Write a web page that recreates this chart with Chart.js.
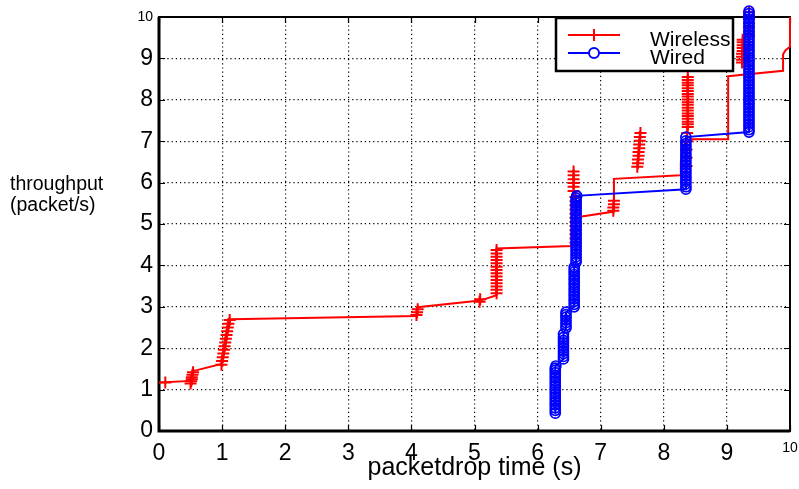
<!DOCTYPE html>
<html>
<head>
<meta charset="utf-8">
<script src="https://cdn.jsdelivr.net/npm/chart.js@4.4.0/dist/chart.umd.min.js"></script>
<style>
body{margin:0;background:#fff;}
#dibujo{width:799px;height:489px;}
</style>
</head>
<body>
<div id="dibujo"><canvas id="myChart" width="799" height="489"></canvas></div>
<script>
// axis ticks
var xTicks = [0,1,2,3,4,5,6,7,8,9,10];
var yTicks = [0,1,2,3,4,5,6,7,8,9,10];

// Wireless: the stepped red line
var wirelessLine = [[0,1.17],[0.51,1.21],[0.53,1.45],[0.6,1.47],[0.99,1.62],[1.13,2.7],[4.08,2.78],[4.1,2.99],
    [5.09,3.15],[5.35,3.28],[5.35,4.41],[6.54,4.47],[6.6,5.1],[6.7,5.18],[7.21,5.3],[7.21,6.09],[8.26,6.18],
    [8.27,6.5],[8.33,6.95],[8.42,7.05],[9.02,7.05],[9.02,8.57],[9.89,8.7],[9.89,9.1],[9.93,9.2],[10,9.28],[10,10]];

// Wireless: the '+' markers
var wirelessMarks = [[0.1,1.17],
    [0.5,1.15],[0.51,1.2],[0.52,1.25],[0.52,1.3],[0.53,1.36],[0.54,1.42],
    [0.99,1.6],[1.0,1.69],[1.01,1.78],[1.02,1.87],[1.03,1.96],[1.04,2.05],[1.05,2.14],[1.06,2.23],[1.07,2.32],
    [1.08,2.41],[1.09,2.5],[1.1,2.59],[1.12,2.68],
    [4.08,2.8],[4.09,2.87],[4.1,2.94],
    [5.08,3.12],[5.09,3.18],
    [5.35,3.33],[5.35,3.41],[5.35,3.49],[5.35,3.57],[5.35,3.65],[5.35,3.73],[5.35,3.81],[5.35,3.89],[5.35,3.97],
    [5.35,4.05],[5.35,4.13],[5.35,4.21],[5.35,4.29],[5.35,4.37],
    [6.6,4.55],[6.6,4.65],[6.6,4.75],[6.6,4.85],[6.6,4.95],[6.6,5.05],[6.6,5.15],[6.6,5.25],[6.6,5.35],[6.6,5.45],
    [6.6,5.55],[6.6,5.65],[6.57,5.8],[6.57,5.9],[6.57,5.99],[6.57,6.08],[6.57,6.18],[6.57,6.27],
    [7.2,5.32],[7.2,5.4],[7.21,5.48],[7.21,5.56],
    [7.58,6.38],[7.59,6.47],[7.59,6.56],[7.6,6.65],[7.6,6.74],[7.61,6.83],[7.61,6.92],[7.62,7.01],[7.62,7.1],[7.63,7.2],
    [8.36,6.4],[8.36,6.6],[8.36,6.8],[8.37,7.0],[8.37,7.2],
    [8.38,7.34],[8.38,7.41],[8.38,7.47],[8.38,7.54],[8.38,7.61],[8.38,7.67],[8.38,7.74],[8.38,7.81],[8.38,7.88],
    [8.38,7.94],[8.38,8.01],[8.38,8.08],[8.38,8.14],[8.38,8.21],[8.38,8.28],[8.38,8.35],[8.38,8.41],[8.38,8.48],[8.38,8.55],
    [9.24,8.9],[9.24,8.97],[9.24,9.04],[9.24,9.11],[9.25,9.18],[9.25,9.25],[9.25,9.32],[9.25,9.39],[9.25,9.45],
    [9.35,9.55],[9.35,9.65],[9.35,9.75],[9.35,9.85],[9.35,9.95],[9.35,10.05],[9.35,10.12]];

// Wired: blue line with circles
var wired = [
    [6.28,0.43],[6.28,0.5],[6.28,0.56],[6.28,0.63],[6.28,0.69],[6.28,0.76],[6.28,0.82],[6.28,0.89],[6.28,0.95],
    [6.28,1.02],[6.28,1.08],[6.28,1.15],[6.28,1.21],[6.28,1.28],[6.28,1.34],[6.28,1.41],[6.28,1.47],[6.28,1.52],[6.29,1.57],
    [6.41,1.74],[6.41,1.8],[6.41,1.87],[6.41,1.93],[6.41,2.0],[6.41,2.06],[6.41,2.13],[6.41,2.19],[6.41,2.26],[6.41,2.34],
    [6.45,2.49],[6.45,2.55],[6.45,2.62],[6.45,2.68],[6.45,2.75],[6.45,2.81],[6.45,2.87],
    [6.58,3.0],[6.58,3.06],[6.58,3.13],[6.58,3.19],[6.58,3.26],[6.58,3.32],[6.58,3.39],[6.58,3.45],[6.58,3.52],
    [6.58,3.58],[6.58,3.65],[6.58,3.71],[6.58,3.78],[6.58,3.84],[6.58,3.9],[6.58,3.96],
    [6.61,4.08],[6.61,4.14],[6.61,4.21],[6.61,4.27],[6.61,4.34],[6.61,4.4],[6.61,4.47],[6.61,4.53],[6.61,4.6],
    [6.61,4.66],[6.61,4.73],[6.61,4.79],[6.61,4.86],[6.61,4.92],[6.61,4.99],[6.61,5.05],[6.61,5.12],[6.61,5.18],
    [6.61,5.25],[6.61,5.31],[6.61,5.38],[6.61,5.44],[6.61,5.51],[6.61,5.57],[6.61,5.63],[6.62,5.68],
    [8.35,5.84],[8.35,5.9],[8.35,5.97],[8.35,6.03],[8.35,6.1],[8.35,6.16],[8.35,6.23],[8.35,6.29],[8.35,6.36],
    [8.35,6.42],[8.35,6.49],[8.35,6.55],[8.35,6.62],[8.35,6.68],[8.35,6.75],[8.35,6.81],[8.35,6.88],[8.35,6.94],
    [8.35,7.01],[8.35,7.1],
    [9.35,7.22],[9.35,7.28],[9.35,7.35],[9.35,7.41],[9.35,7.48],[9.35,7.54],[9.35,7.61],[9.35,7.67],[9.35,7.74],
    [9.35,7.8],[9.35,7.87],[9.35,7.93],[9.35,8.0],[9.35,8.06],[9.35,8.13],[9.35,8.19],[9.35,8.26],[9.35,8.32],
    [9.35,8.39],[9.35,8.45],[9.35,8.52],[9.35,8.58],[9.35,8.65],[9.35,8.71],[9.35,8.78],[9.35,8.84],[9.35,8.91],
    [9.35,8.97],[9.35,9.04],[9.35,9.1],[9.35,9.17],[9.35,9.23],[9.35,9.3],[9.35,9.36],[9.35,9.43],[9.35,9.49],
    [9.35,9.56],[9.35,9.62],[9.35,9.69],[9.35,9.75],[9.35,9.82],[9.35,9.88],[9.35,9.95],[9.35,10.01],[9.35,10.08],
    [9.35,10.14],[9.36,10.17]];

var legendNames = ['Wireless', 'Wired'];
var FONT = "'Liberation Sans', Arial, Helvetica, sans-serif";

function pts(a){
    return a.map(function(p){ return {x: p[0], y: p[1]}; });
}

var marco = {
    id: 'marco',
    beforeDatasetsDraw: function(chart){
        var c = chart.ctx, a = chart.chartArea;
        var sx = chart.scales.x, sy = chart.scales.y;
        c.save();
        c.strokeStyle = '#000';
        c.lineWidth = 1.2;
        c.beginPath();
        xTicks.forEach(function(v){
            var px = Math.round(sx.getPixelForValue(v)) + 0.5;
            c.moveTo(px, a.bottom); c.lineTo(px, a.bottom - 6);
            c.moveTo(px, a.top); c.lineTo(px, a.top + 6);
        });
        yTicks.forEach(function(v){
            var py = Math.round(sy.getPixelForValue(v)) + 0.5;
            c.moveTo(a.left, py); c.lineTo(a.left + 6, py);
            c.moveTo(a.right, py); c.lineTo(a.right - 6, py);
        });
        c.stroke();
        c.lineWidth = 2;
        c.strokeRect(a.left, a.top, a.right - a.left, a.bottom - a.top);
        c.lineWidth = 3;
        c.beginPath();
        c.moveTo(a.left, a.top); c.lineTo(a.left, a.bottom); c.lineTo(a.right, a.bottom);
        c.stroke();
        c.restore();
    },
    afterDatasetsDraw: function(chart){
        var c = chart.ctx, a = chart.chartArea;
        var bx = a.right - 234, by = a.top + 1, bw = 177, bh = 53;
        c.save();
        c.fillStyle = '#fff';
        c.fillRect(bx, by, bw, bh);
        c.strokeStyle = '#000';
        c.lineWidth = 2.5;
        c.strokeRect(bx, by, bw, bh);
        // Wireless entry
        c.strokeStyle = '#ff0000';
        c.lineWidth = 2;
        c.beginPath();
        c.moveTo(bx + 12, by + 17); c.lineTo(bx + 64, by + 17);
        c.moveTo(bx + 38, by + 11); c.lineTo(bx + 38, by + 23);
        c.stroke();
        // Wired entry
        c.strokeStyle = '#0000ff';
        c.beginPath();
        c.moveTo(bx + 12, by + 35); c.lineTo(bx + 64, by + 35);
        c.stroke();
        c.beginPath();
        c.fillStyle = '#fff';
        c.arc(bx + 38, by + 35, 5, 0, Math.PI * 2);
        c.fill(); c.stroke();
        c.fillStyle = '#000';
        c.font = '21px ' + FONT;
        c.textBaseline = 'alphabetic';
        c.fillText(legendNames[0], bx + 94, by + 28);
        c.fillText(legendNames[1], bx + 94, by + 46);
        // y axis title, horizontal at left
        c.font = '19.5px ' + FONT;
        c.fillText('throughput', 10, 190);
        c.fillText('(packet/s)', 10, 211);
        c.restore();
    }
};

function tickFont(ctx){
    return {family: FONT, size: (ctx.tick && ctx.tick.value === 10) ? 14 : 23};
}

var ctx = document.getElementById('myChart').getContext('2d');
var chart = new Chart(ctx, {
    type: 'scatter',
    data: {
        datasets: [{
            label: legendNames[1],
            data: pts(wired),
            showLine: true,
            borderColor: '#0000ff',
            borderWidth: 2,
            pointStyle: 'circle',
            pointRadius: 5,
            pointBorderWidth: 1.7,
            pointBorderColor: '#0000ff',
            pointBackgroundColor: 'rgba(0,0,0,0)',
            clip: false,
            order: 0
        }, {
            label: legendNames[0] + ' marks',
            data: pts(wirelessMarks),
            showLine: false,
            pointStyle: 'cross',
            pointRadius: 6,
            pointBorderWidth: 2,
            pointBorderColor: '#ff0000',
            clip: false,
            order: 1
        }, {
            label: legendNames[0],
            data: pts(wirelessLine),
            showLine: true,
            borderColor: '#ff0000',
            borderWidth: 2,
            pointRadius: 0,
            clip: false,
            order: 2
        }]
    },
    options: {
        responsive: false,
        animation: false,
        layout: {padding: {left: 0, right: 9, top: 17, bottom: 0}},
        plugins: {legend: {display: false}, tooltip: {enabled: false}},
        scales: {
            x: {
                type: 'linear', min: 0, max: 10,
                afterBuildTicks: function(s){ s.ticks = xTicks.map(function(v){ return {value: v}; }); },
                afterFit: function(s){ s.height = 58; s.paddingLeft = 0; s.paddingRight = 0; },
                ticks: {autoSkip: false, maxRotation: 0, padding: 9, color: '#000', font: tickFont},
                grid: {color: '#000', lineWidth: 1.2, drawTicks: false},
                border: {display: false, dash: [1.2, 3]},
                title: {display: true, text: 'packetdrop time (s)', color: '#000',
                        font: {family: FONT, size: 25}, padding: {top: 6, bottom: 6}}
            },
            y: {
                type: 'linear', min: 0, max: 10,
                afterBuildTicks: function(s){ s.ticks = yTicks.map(function(v){ return {value: v}; }); },
                afterFit: function(s){ s.width = 159; s.paddingTop = 0; s.paddingBottom = 0; },
                ticks: {autoSkip: false, padding: 6, color: '#000', font: tickFont},
                grid: {color: '#000', lineWidth: 1.2, drawTicks: false},
                border: {display: false, dash: [1.2, 3]}
            }
        }
    },
    plugins: [marco]
});
</script>
</body>
</html>
